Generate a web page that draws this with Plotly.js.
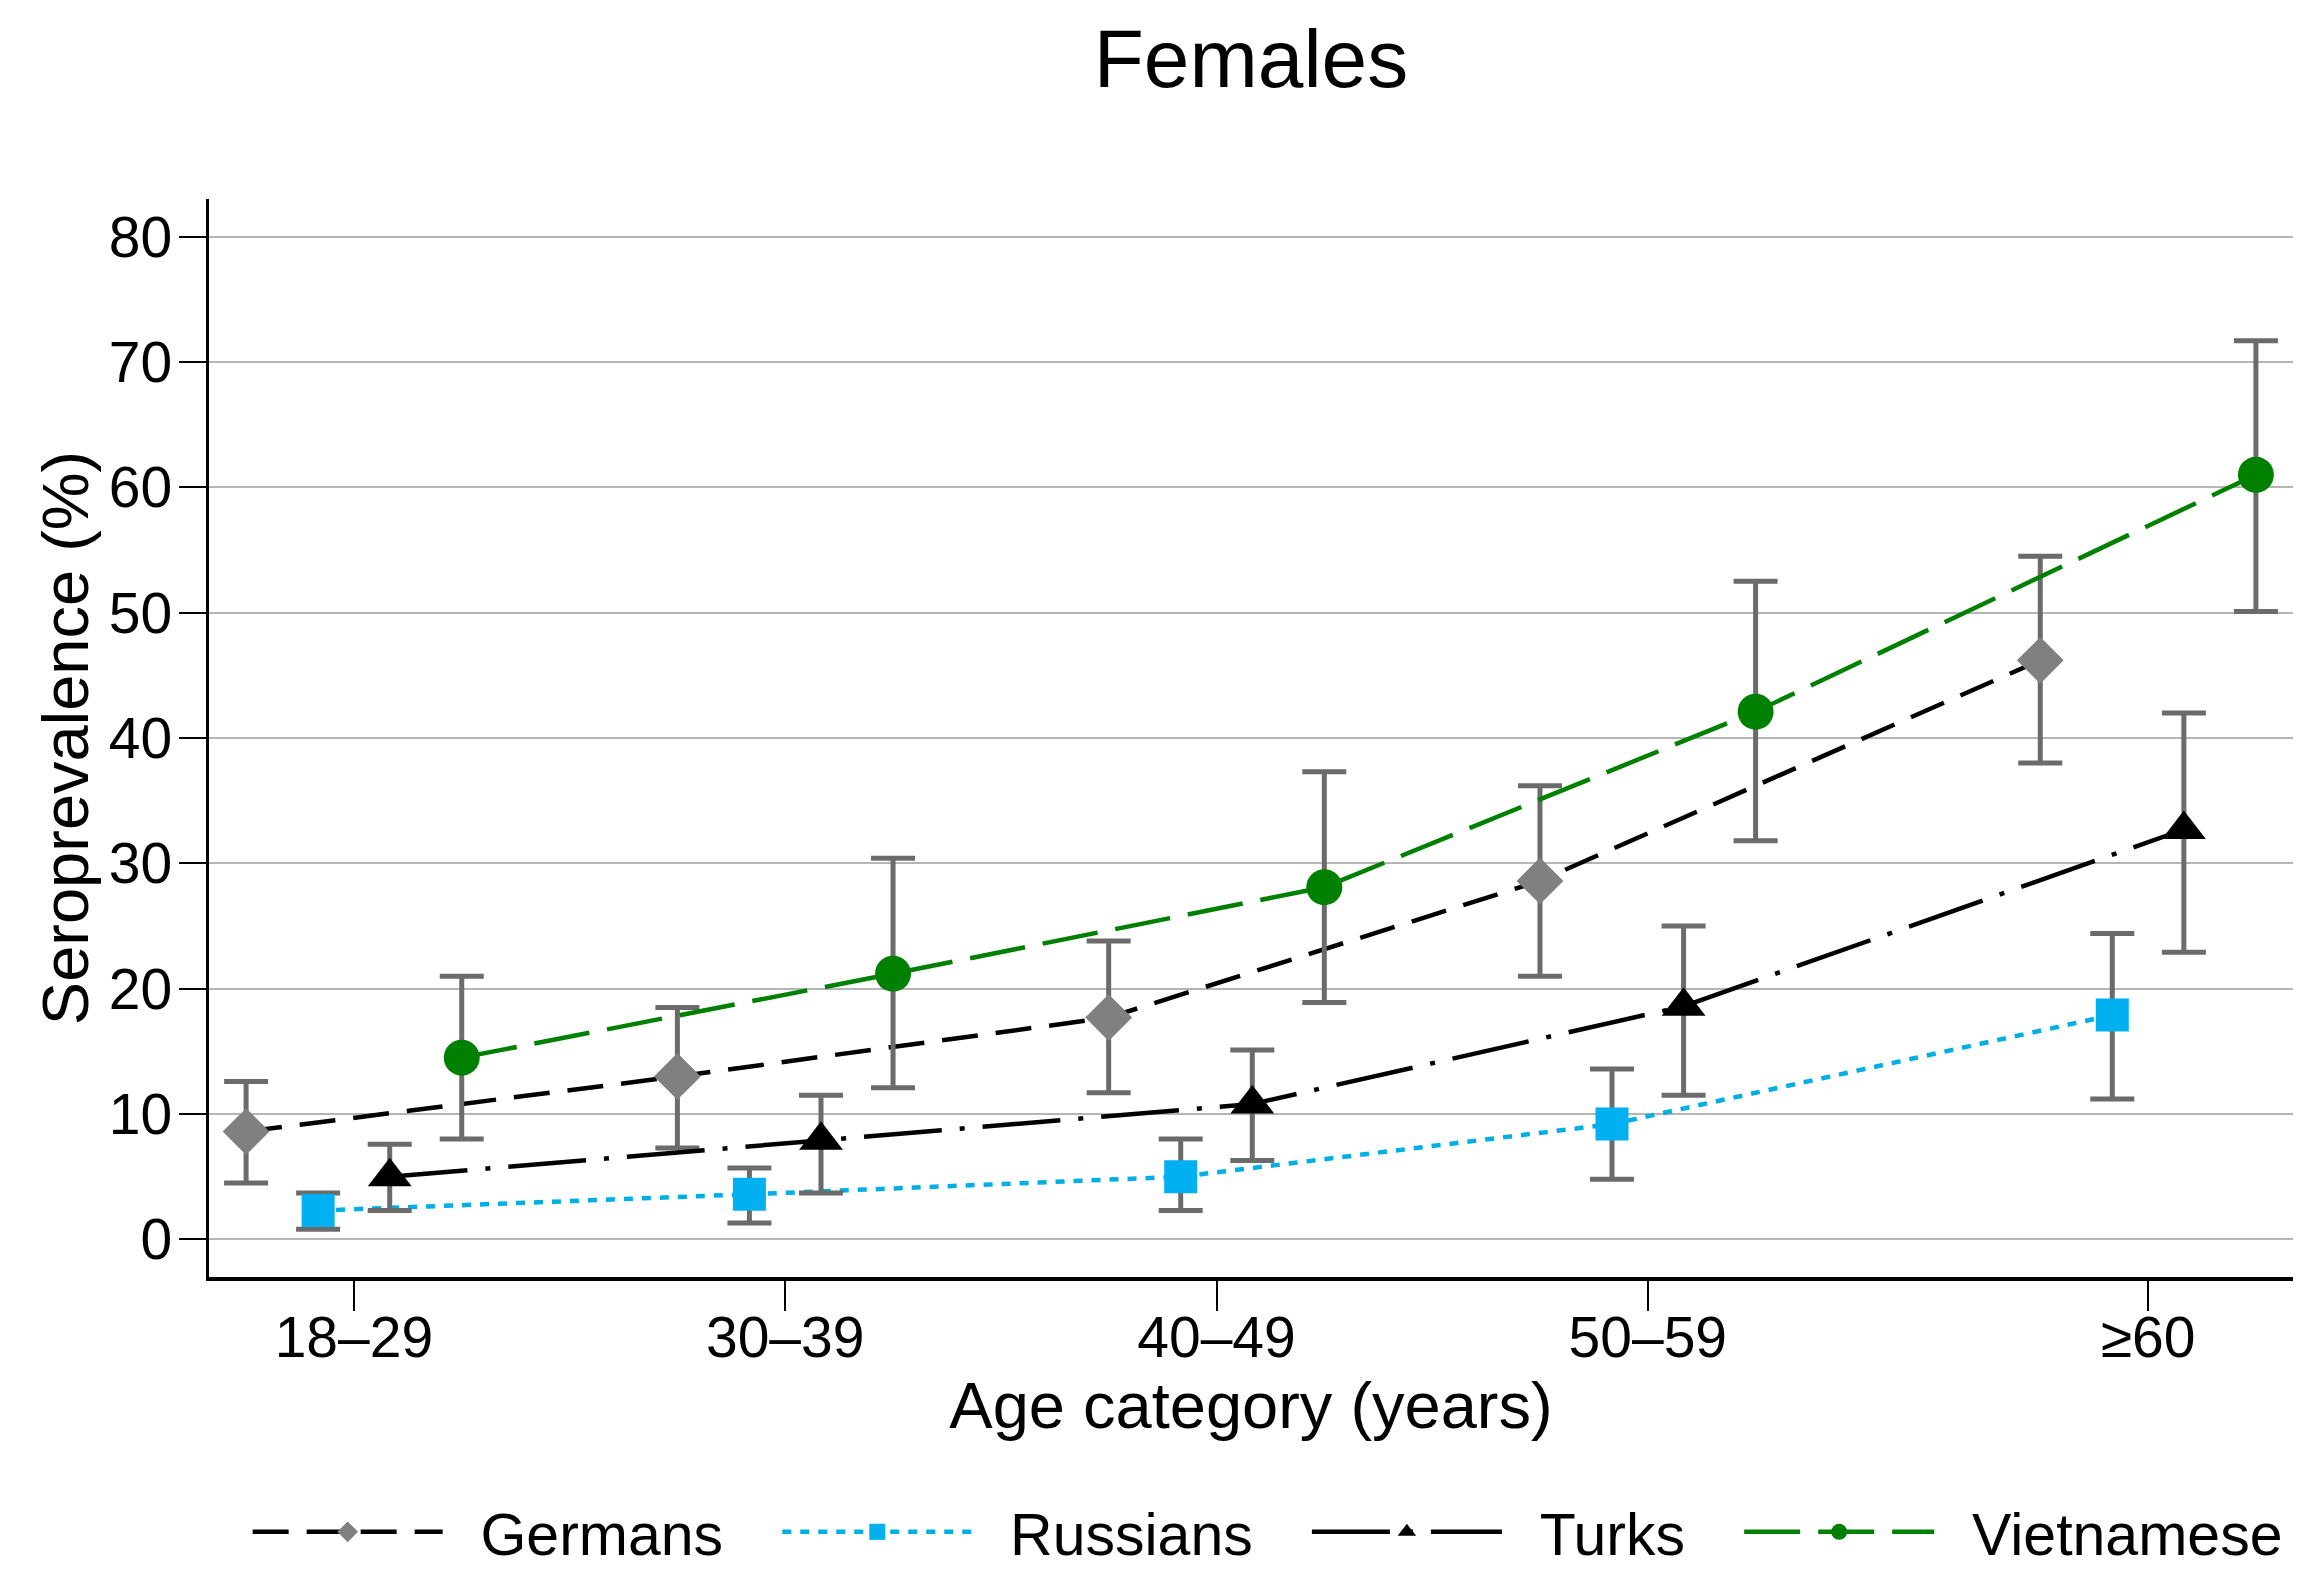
<!DOCTYPE html>
<html>
<head>
<meta charset="utf-8">
<script src="https://cdn.plot.ly/plotly-3.0.1.min.js"></script>
<style>
  html, body { margin: 0; padding: 0; background: #fff; }
  #chart { width: 2316px; height: 1581px; }
</style>
</head>
<body>
<div id="chart"></div>
<script>
// ---- data ----
const ageCategories = ['18–29', '30–39', '40–49', '50–59', '≥60'];
const ageAxisValues = [25, 35, 45, 55, 66.6];   // where each age category sits on the age axis

const seriesNames  = ['Germans', 'Russians', 'Turks', 'Vietnamese'];

const germansPrev  = [8.6, 13.0, 17.7, 28.6, 46.2];
const germansLow   = [4.5, 7.3, 11.7, 21.0, 38.0];
const germansHigh  = [12.6, 18.5, 23.8, 36.2, 54.5];

const russiansPrev = [2.3, 3.6, 5.0, 9.2, 17.9];
const russiansLow  = [0.8, 1.3, 2.3, 4.8, 11.2];
const russiansHigh = [3.7, 5.7, 8.0, 13.6, 24.4];

const turksPrev    = [5.0, 7.9, 10.8, 18.6, 32.7];
const turksLow     = [2.3, 3.7, 6.3, 11.5, 22.9];
const turksHigh    = [7.6, 11.5, 15.1, 25.0, 42.0];

const vietPrev     = [14.5, 21.2, 28.1, 42.1, 61.0];
const vietLow      = [8.0, 12.1, 18.9, 31.8, 50.1];
const vietHigh     = [21.0, 30.4, 37.3, 52.5, 71.7];

const yTicks = [0, 10, 20, 30, 40, 50, 60, 70, 80];

// ---- styling / construction ----
const FONT = '"Liberation Sans", Arial, Helvetica, sans-serif';
const ERR_COLOR = '#6b6b6b';
const NB = '\u00a0';

function legendLabel(name, isLast) {
  // small spacing around the legend text, like the reference legend
  return NB + NB + name + (isLast ? '' : NB + NB + NB);
}

function makeTrace(idx, prev, low, high, offset, line, marker) {
  return {
    type: 'scatter',
    mode: 'lines+markers',
    name: legendLabel(seriesNames[idx], idx === seriesNames.length - 1),
    x: ageAxisValues.map(v => v + offset),
    y: prev,
    line: line,
    marker: marker,
    error_y: {
      type: 'data',
      symmetric: false,
      array: high.map((h, i) => h - prev[i]),
      arrayminus: prev.map((p, i) => p - low[i]),
      color: ERR_COLOR,
      thickness: 5,
      width: 22
    },
    hoverinfo: 'x+y'
  };
}

const traces = [
  makeTrace(0, germansPrev, germansLow, germansHigh, -2.5,
    { color: '#000000', width: 4.5, dash: '36px,18px' },
    { symbol: 'diamond', size: 36, color: '#808080' }),
  makeTrace(1, russiansPrev, russiansLow, russiansHigh, -0.83,
    { color: '#00aee6', width: 4.5, dash: '9px,9px' },
    { symbol: 'square', size: 33, color: '#00b0f0' }),
  makeTrace(2, turksPrev, turksLow, turksHigh, 0.83,
    { color: '#000000', width: 4.5, dash: '78px,18px,5px,18px' },
    { symbol: 'triangle-up', size: 38, color: '#000000' }),
  makeTrace(3, vietPrev, vietLow, vietHigh, 2.5,
    { color: '#008000', width: 4.5, dash: '56px,18px' },
    { symbol: 'circle', size: 36, color: '#008000' })
];

const layout = {
  width: 2316,
  height: 1581,
  paper_bgcolor: '#ffffff',
  plot_bgcolor: '#ffffff',
  font: { family: FONT, color: '#000000', size: 57 },
  margin: { l: 209, r: 23, t: 199, b: 304, pad: 0 },
  title: {
    text: 'Females',
    font: { family: FONT, size: 82, color: '#000000' },
    x: 0.5, xref: 'paper', xanchor: 'center',
    y: 1 - 58 / 1581, yref: 'container', yanchor: 'middle'
  },
  xaxis: {
    range: [ageAxisValues[0] - 3.36, ageAxisValues[4] + 3.36],
    tickmode: 'array',
    tickvals: ageAxisValues,
    ticktext: ageCategories,
    ticks: 'outside',
    ticklen: 30,
    tickwidth: 2,
    tickcolor: '#000000',
    ticklabelstandoff: -22,
    tickfont: { family: FONT, size: 57, color: '#000000' },
    showgrid: false,
    zeroline: false,
    showline: true,
    linecolor: '#000000',
    linewidth: 4,
    mirror: false,
    title: { text: 'Age category (years)', font: { family: FONT, size: 65, color: '#000000' }, standoff: 12 },
    fixedrange: true
  },
  yaxis: {
    range: [-3, 83],
    tickmode: 'array',
    tickvals: yTicks,
    ticks: 'outside',
    ticklen: 27,
    tickwidth: 2,
    tickcolor: '#000000',
    ticklabelstandoff: -5,
    tickfont: { family: FONT, size: 57, color: '#000000' },
    showgrid: true,
    gridcolor: '#b5b5b5',
    gridwidth: 2,
    zeroline: false,
    showline: true,
    linecolor: '#000000',
    linewidth: 3.5,
    title: { text: 'Seroprevalence (%)', font: { family: FONT, size: 65, color: '#000000' }, standoff: 0 },
    fixedrange: true
  },
  showlegend: true,
  legend: {
    orientation: 'h',
    x: 0.508, xref: 'paper', xanchor: 'center',
    y: 1 - 1532 / 1581, yref: 'container', yanchor: 'middle',
    font: { family: FONT, size: 59, color: '#000000' },
    itemwidth: 190,
    itemsizing: 'trace',
    bgcolor: 'rgba(0,0,0,0)',
    traceorder: 'normal'
  }
};

Plotly.newPlot('chart', traces, layout, { staticPlot: true, displayModeBar: false });
</script>
</body>
</html>
